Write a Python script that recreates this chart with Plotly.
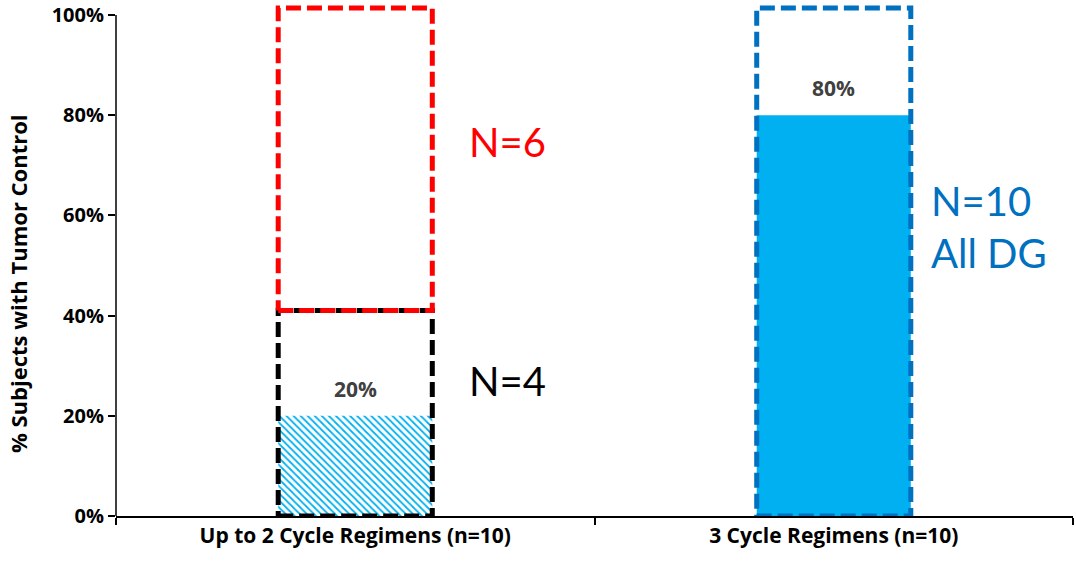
import plotly.graph_objects as go

# ---- data ----
categories = ["Up to 2 Cycle Regimens (n=10)", "3 Cycle Regimens (n=10)"]
tumor_control_pct = [20, 80]
value_labels = ["20%", "80%"]
bar_pattern = ["\\", ""]
bar_colors = ["#FFFFFF", "#00B0F0"]
y_ticks = [0, 20, 40, 60, 80, 100]
y_title = "% Subjects with Tumor Control"

# dashed group outlines (category index, lower %, upper %)
group_names = ["N=4", "N=6", "N=10"]
group_cat = [0, 0, 1]
group_low = [0, 41, 0]
group_high = [41, 101.4, 101.4]
group_colors = ["#000000", "#FF0000", "#0070C0"]

FONT = "Open Sans"
NFONT = "Lato"
BAR_W = 0.322

fig = go.Figure()

for i, v in enumerate(tumor_control_pct):
    marker = dict(color=bar_colors[i], line=dict(width=0))
    if bar_pattern[i]:
        marker["pattern"] = dict(shape=bar_pattern[i], fgcolor="#00B0F0",
                                 bgcolor="#FFFFFF", fillmode="replace",
                                 size=5, solidity=0.35)
    fig.add_trace(go.Bar(x=[i], y=[v], width=BAR_W, marker=marker,
                         showlegend=False, hoverinfo="skip"))

h = BAR_W / 2
for name, c, lo, hi, col in zip(group_names, group_cat, group_low, group_high, group_colors):
    fig.add_trace(go.Scatter(
        x=[c - h, c + h, c + h, c - h, c - h],
        y=[lo, lo, hi, hi, lo],
        mode="lines",
        line=dict(color=col, width=5, dash="15px,6px"),
        showlegend=False,
        hoverinfo="skip",
        name=name,
    ))

annotations = []
for i, (v, t) in enumerate(zip(tumor_control_pct, value_labels)):
    annotations.append(dict(
        x=i, y=v, xref="x", yref="y", text=f"<b>{t}</b>", showarrow=False,
        yshift=27, font=dict(family=FONT, size=21, color="#404040"),
    ))

annotations += [
    dict(x=0.233, y=74.6, xref="x", yref="y", text="N=6", showarrow=False,
         xanchor="left", yanchor="middle", font=dict(family=NFONT, size=40, color="#FF0000")),
    dict(x=0.233, y=27, xref="x", yref="y", text="N=4", showarrow=False,
         xanchor="left", yanchor="middle", font=dict(family=NFONT, size=40, color="#000000")),
    dict(x=1.2, y=57.7, xref="x", yref="y", text="N=10<br>All DG", showarrow=False,
         xanchor="left", yanchor="middle", align="left",
         font=dict(family=NFONT, size=40, color="#0070C0")),
    dict(x=-0.1024, y=46.3, xref="paper", yref="y", text=f"<b>{y_title}</b>",
         textangle=-90, showarrow=False, xanchor="center", yanchor="middle",
         font=dict(family=FONT, size=22, color="#000000")),
]

fig.update_layout(
    width=1076, height=562,
    margin=dict(l=116, r=3, t=5, b=46),
    plot_bgcolor="#FFFFFF", paper_bgcolor="#FFFFFF",
    font=dict(family=FONT, color="#000000"),
    annotations=annotations,
    barmode="overlay",
    shapes=[dict(type="line", xref="paper", yref="y", x0=0, x1=0, y0=0, y1=100,
                 line=dict(color="#000000", width=1.5))],
    xaxis=dict(
        range=[-0.5, 1.5], automargin=False,
        tickvals=[0, 1], ticktext=[f"<b>{c}</b>" for c in categories],
        ticks="", showgrid=False, zeroline=False,
        showline=True, linecolor="#000000", linewidth=1.5,
        tickfont=dict(family=FONT, size=21, color="#000000"),
        minor=dict(tickvals=[-0.5, 0.5, 1.5], ticks="outside", ticklen=7,
                   tickwidth=1.5, tickcolor="#000000", showgrid=False),
    ),
    yaxis=dict(
        range=[0, 102], automargin=False,
        tickvals=y_ticks,
        ticktext=[f"<b>{v}%</b>" for v in y_ticks],
        ticks="outside", ticklen=7, tickwidth=1.5, tickcolor="#000000",
        showgrid=False, zeroline=False, showline=False,
        tickfont=dict(family=FONT, size=20, color="#000000"),
    ),
)

fig.write_html(
    "out.html",
    config={"displayModeBar": False},
    post_script="document.body.style.margin='0';document.body.style.overflow='hidden';",
)
